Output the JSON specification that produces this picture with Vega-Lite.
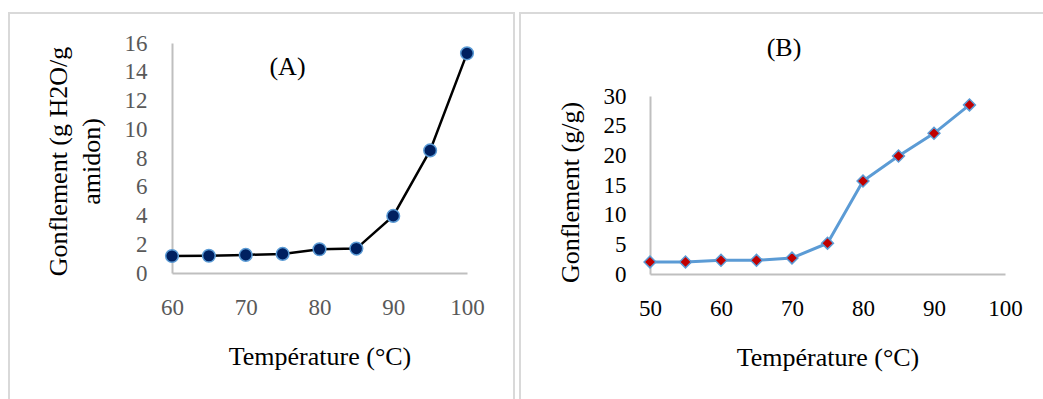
{
  "$schema": "https://vega.github.io/schema/vega-lite/v6.json",
  "padding": {"left": 8, "top": 12, "right": 0, "bottom": 0},
  "spacing": 4,
  "config": {
    "view": {"stroke": "#d9d9d9", "strokeWidth": 2},
    "font": "Liberation Serif",
    "style": {"guide-label": {"font": "Liberation Serif"}, "guide-title": {"font": "Liberation Serif"}},
    "axis": {"grid": false, "ticks": false, "labelFlush": false, "labelOverlap": false, "domainColor": "#bfbfbf", "domainWidth": 2, "labelFont": "Liberation Serif", "titleFont": "Liberation Serif", "labelFontSize": 23, "titleFontSize": 26, "titleFontWeight": "normal", "titleColor": "#000000"},
    "title": {"font": "Liberation Serif", "fontSize": 26, "fontWeight": "normal", "color": "#000000"}
  },
  "hconcat": [
    {
      "width": 505,
      "height": 392,
      "title": {"text": "(A)", "frame": "group", "anchor": "middle", "dx": 26, "offset": -80, "baseline": "middle"},
      "data": {"values": [
        {"t": 60, "g": 1.18}, {"t": 65, "g": 1.2}, {"t": 70, "g": 1.26}, {"t": 75, "g": 1.33}, {"t": 80, "g": 1.65},
        {"t": 85, "g": 1.7}, {"t": 90, "g": 3.97}, {"t": 95, "g": 8.53}, {"t": 100, "g": 15.28}
      ]},
      "encoding": {
        "x": {"field": "t", "type": "quantitative", "scale": {"domain": [60, 100], "range": [163, 458]},
          "axis": {"title": "Température (°C)", "values": [60, 70, 80, 90, 100], "offset": -132, "labelPadding": 23, "titlePadding": 24, "labelColor": "#595959", "labelFont": "Liberation Serif", "labelFlush": false}},
        "y": {"field": "g", "type": "quantitative", "scale": {"domain": [0, 16], "range": [260, 30]},
          "axis": {"title": ["Gonflement (g H2O/g", "amidon)"], "values": [0, 2, 4, 6, 8, 10, 12, 14, 16], "offset": -163, "labelPadding": 25, "titlePadding": 20, "labelColor": "#595959", "labelFont": "Liberation Serif", "titleLineHeight": 33, "titleY": 148}}
      },
      "layer": [
        {"mark": {"type": "line", "color": "#000000", "strokeWidth": 2.5}},
        {"mark": {"type": "point", "shape": "circle", "filled": true, "fill": "#002060", "stroke": "#5b9bd5", "strokeWidth": 1.5, "size": 160, "opacity": 1}}
      ]
    },
    {
      "width": 532,
      "height": 392,
      "title": {"text": "(B)", "frame": "group", "anchor": "middle", "dx": -2, "offset": -61, "baseline": "middle"},
      "data": {"values": [
        {"t": 50, "g": 2.03}, {"t": 55, "g": 2.03}, {"t": 60, "g": 2.31}, {"t": 65, "g": 2.31}, {"t": 70, "g": 2.7},
        {"t": 75, "g": 5.19}, {"t": 80, "g": 15.66}, {"t": 85, "g": 19.88}, {"t": 90, "g": 23.71}, {"t": 95, "g": 28.5}
      ]},
      "encoding": {
        "x": {"field": "t", "type": "quantitative", "scale": {"domain": [50, 100], "range": [130, 485]},
          "axis": {"title": "Température (°C)", "values": [50, 60, 70, 80, 90, 100], "offset": -131, "labelPadding": 23, "titlePadding": 24, "labelColor": "#000000", "labelFont": "Liberation Serif", "labelFlush": false}},
        "y": {"field": "g", "type": "quantitative", "scale": {"domain": [0, 30], "range": [261, 83]},
          "axis": {"title": "Gonflement (g/g)", "values": [0, 5, 10, 15, 20, 25, 30], "offset": -130, "labelPadding": 24, "titlePadding": 20, "labelColor": "#000000", "labelFont": "Liberation Serif", "titleY": 179}}
      },
      "layer": [
        {"mark": {"type": "line", "color": "#5b9bd5", "strokeWidth": 3}},
        {"mark": {"type": "point", "shape": "diamond", "filled": true, "fill": "#c00000", "stroke": "#5b9bd5", "strokeWidth": 1.5, "size": 140, "opacity": 1}}
      ]
    }
  ]
}
